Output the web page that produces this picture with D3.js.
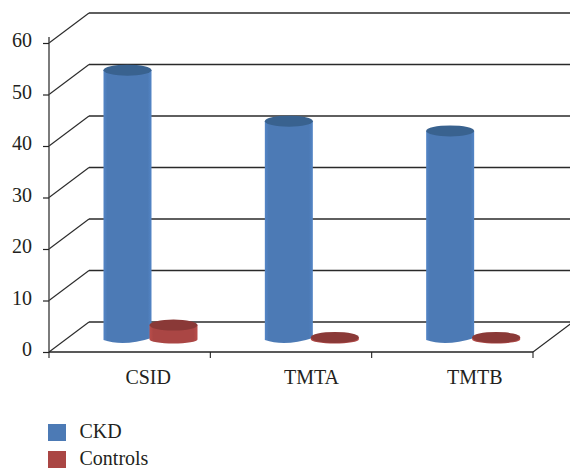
<!DOCTYPE html>
<html lang="en">
<head>
  <meta charset="UTF-8">
  <title>CKD vs Controls</title>
  <script src="https://d3js.org/d3.v7.min.js"></script>
  <style>
    html, body { margin: 0; padding: 0; background: #fff; }
    svg { display: block; }
    text { font-family: "Liberation Serif", serif; font-size: 20px; fill: #231f20; }
  </style>
</head>
<body>
  <script>
    var categories = ["CSID", "TMTA", "TMTB"];
    var seriesNames = ["CKD", "Controls"];
    var ckdValues = [52.3, 42.4, 40.5];
    var controlValues = [2.8, 0.4, 0.4];
    var yTicks = [0, 10, 20, 30, 40, 50, 60];

    var sideColors = ["#4c7ab5", "#aa4644"];
    var topColors = ["#39628f", "#8a3937"];

    var width = 570, height = 468;
    var depthX = 40, depthY = 30;
    var rx = 24, ry = 5.5;

    var svg = d3.select("body").append("svg")
      .attr("width", width)
      .attr("height", height);

    var x = d3.scaleBand().domain(categories).range([49, 533]);
    var y = d3.scaleLinear().domain([0, 60]).range([352, 43]);
    // position of each series inside a category
    var inner = d3.scaleBand().domain(seriesNames).range([55.5, 147.5]);

    // side gradients, lighter on the edges like the original
    var defs = svg.append("defs");
    seriesNames.forEach(function(name, i) {
      var g = defs.append("linearGradient").attr("id", "side" + i);
      g.append("stop").attr("offset", "0%").attr("stop-color", d3.color(sideColors[i]).brighter(0.25));
      g.append("stop").attr("offset", "8%").attr("stop-color", sideColors[i]);
      g.append("stop").attr("offset", "92%").attr("stop-color", sideColors[i]);
      g.append("stop").attr("offset", "100%").attr("stop-color", d3.color(sideColors[i]).brighter(0.25));
    });

    // back wall gridlines and the diagonals on the side wall
    var grid = svg.append("g").attr("fill", "none").attr("stroke", "#2a2a2a");
    grid.selectAll(".back").data(yTicks).enter().append("line")
      .attr("x1", 49 + depthX).attr("x2", 570)
      .attr("y1", function(d) { return y(d) - depthY; })
      .attr("y2", function(d) { return y(d) - depthY; })
      .attr("stroke-width", 1.4);
    grid.selectAll(".side").data(yTicks).enter().append("line")
      .attr("x1", 49).attr("x2", 49 + depthX)
      .attr("y1", function(d) { return y(d); })
      .attr("y2", function(d) { return y(d) - depthY; })
      .attr("stroke-width", 1.1);
    grid.append("line")
      .attr("x1", 533).attr("x2", 533 + depthX)
      .attr("y1", y(0)).attr("y2", y(0) - depthY)
      .attr("stroke-width", 1.1);

    // axes
    var yAxis = svg.append("g")
      .attr("transform", "translate(49,0)")
      .call(d3.axisLeft(y).tickValues(yTicks).tickSize(6).tickPadding(11).tickFormat(d3.format("d")));
    yAxis.select(".domain").attr("d", "M0,37V352").attr("stroke", "#444").attr("stroke-width", 1.4);
    yAxis.selectAll(".tick line").attr("stroke", "#222").attr("stroke-width", 1.2);
    yAxis.selectAll(".tick text").attr("dy", "0.18em").style("font-size", "20px");

    var xAxis = svg.append("g")
      .attr("transform", "translate(0," + y(0) + ")")
      .call(d3.axisBottom(x).tickSize(0).tickPadding(18));
    xAxis.select(".domain").attr("d", "M49,0H533").attr("stroke", "#222").attr("stroke-width", 1.4);
    // labels sit to the right of the band centre, a bit more each time
    xAxis.selectAll(".tick text")
      .attr("dx", function(d, i) { return 18.5 + 2 * i; })
      .style("font-size", "20px");
    svg.append("g").selectAll("line")
      .data([49, x("TMTA"), x("TMTB"), 533]).enter().append("line")
      .attr("x1", function(d) { return d; }).attr("x2", function(d) { return d; })
      .attr("y1", y(0)).attr("y2", y(0) + 6)
      .attr("stroke", "#222").attr("stroke-width", 1.1);

    // cylinders
    var baseLift = 12.5;
    [ckdValues, controlValues].forEach(function(values, s) {
      var g = svg.append("g");
      values.forEach(function(v, i) {
        var cx = x(categories[i]) + inner(seriesNames[s]) + inner.bandwidth() / 2;
        var top = y(v) - baseLift;
        var base = y(0) - baseLift;
        if (base - top > 2) {
          // the blue cylinders have a slightly tilted foot
          var foot = s == 0
            ? "V" + (base + 0.5) + "Q" + (cx - 4) + "," + (base + 7.5) + " " + (cx + rx) + "," + (base - 1.5)
            : "V" + base + "A" + rx + "," + (ry - 1.5) + " 0 0 0 " + (cx + rx) + "," + base;
          g.append("path")
            .attr("d", "M" + (cx - rx) + "," + top + foot + "V" + top + "Z")
            .attr("fill", "url(#side" + s + ")");
        }
        g.append("ellipse")
          .attr("cx", cx).attr("cy", top)
          .attr("rx", rx).attr("ry", ry)
          .attr("fill", topColors[s]);
      });
    });

    // legend
    var legend = svg.append("g");
    seriesNames.forEach(function(name, i) {
      legend.append("rect")
        .attr("x", 48).attr("y", 424 + i * 27)
        .attr("width", 18).attr("height", 17)
        .attr("fill", sideColors[i]);
      legend.append("text")
        .attr("x", 79.5).attr("y", 437.5 + i * 27)
        .text(name);
    });
  </script>
</body>
</html>
